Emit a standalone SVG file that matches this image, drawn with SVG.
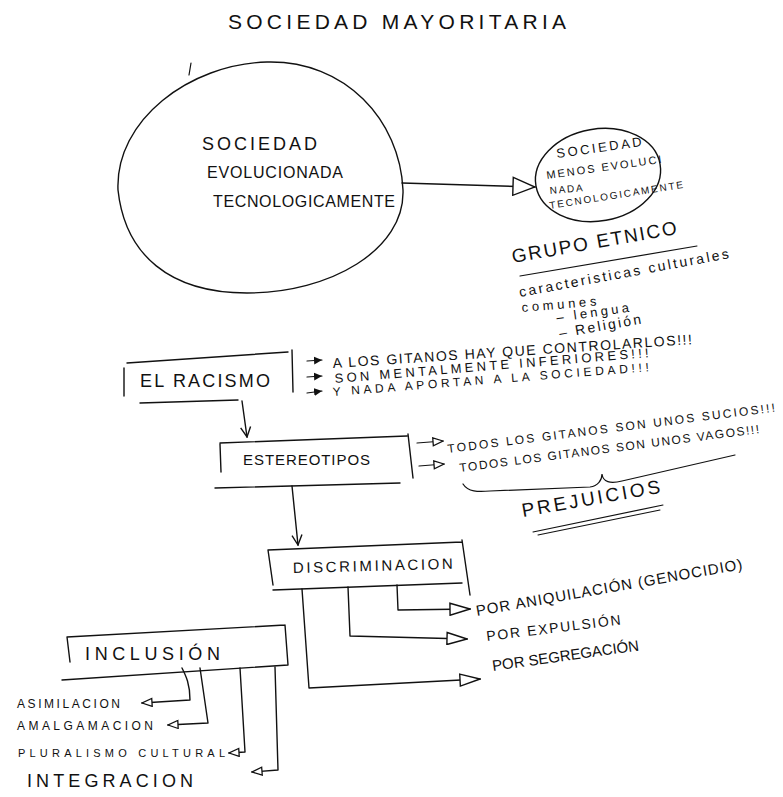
<svg xmlns="http://www.w3.org/2000/svg" width="783" height="797" viewBox="0 0 783 797">
<style>
  .t { font-family: "Liberation Sans", "DejaVu Sans", sans-serif; fill: #111; }
  .ln { fill: none; stroke: #111; stroke-width: 1.4; stroke-linecap: round; stroke-linejoin: round; }
  .thin { fill: none; stroke: #111; stroke-width: 1.2; stroke-linecap: round; }
</style>
<defs>
  <marker id="triBig" markerUnits="userSpaceOnUse" viewBox="0 0 24 20" refX="23" refY="10" markerWidth="24" markerHeight="20" orient="auto">
    <path d="M1,1 L23,10 L1,19 Z" fill="#fff" stroke="#111" stroke-width="1.4"/>
  </marker>
  <marker id="tri" markerUnits="userSpaceOnUse" viewBox="0 0 22 14" refX="21" refY="7" markerWidth="22" markerHeight="14" orient="auto">
    <path d="M1,1 L21,7 L1,13 Z" fill="#fff" stroke="#111" stroke-width="1.4"/>
  </marker>
  <marker id="triS" markerUnits="userSpaceOnUse" viewBox="0 0 12 10" refX="11" refY="5" markerWidth="12" markerHeight="10" orient="auto">
    <path d="M1,1 L11,5 L1,9 Z" fill="#fff" stroke="#111" stroke-width="1.3"/>
  </marker>
  <marker id="vee" markerUnits="userSpaceOnUse" viewBox="0 0 12 12" refX="11" refY="6" markerWidth="12" markerHeight="12" orient="auto">
    <path d="M1,1 L11,6 L1,11" fill="none" stroke="#111" stroke-width="1.4"/>
  </marker>
  <marker id="bullet" markerUnits="userSpaceOnUse" viewBox="0 0 9 8" refX="8" refY="4" markerWidth="9" markerHeight="8" orient="auto">
    <path d="M0,0 L8,4 L0,8 Z" fill="#111"/>
  </marker>
</defs>

<g id="title">
  <text class="t" x="228" y="29" font-size="21" textLength="338" lengthAdjust="spacing">SOCIEDAD MAYORITARIA</text>
  <path class="thin" d="M189,75 L191,63"/>
</g>

<g id="sociedad-evolucionada">
  <path class="ln" d="M267,62 C345,60 400,120 403,190 C405,250 330,293 247,293 C170,293 125,255 118,190 C115,120 190,64 267,62 Z"/>
  <text class="t" x="202" y="150" font-size="18" textLength="115" lengthAdjust="spacing">SOCIEDAD</text>
  <text class="t" x="207" y="178" font-size="16" textLength="136" lengthAdjust="spacing">EVOLUCIONADA</text>
  <text class="t" x="213" y="207" font-size="16" textLength="182" lengthAdjust="spacing">TECNOLOGICAMENTE</text>
</g>

<g id="sociedad-menos-evolucionada">
  <ellipse class="ln" cx="598" cy="175" rx="63" ry="46" transform="rotate(-10 598 175)"/>
  <text class="t" font-size="13" textLength="86" lengthAdjust="spacing" transform="translate(557 158) rotate(-8)">SOCIEDAD</text>
  <text class="t" font-size="11" textLength="116" lengthAdjust="spacing" transform="translate(547 179) rotate(-8)">MENOS EVOLUCI</text>
  <text class="t" font-size="10" textLength="33" lengthAdjust="spacing" transform="translate(550 194) rotate(-5)">NADA</text>
  <text class="t" font-size="10" textLength="135" lengthAdjust="spacing" transform="translate(550 209) rotate(-9)">TECNOLOGICAMENTE</text>
</g>

<g id="grupo-etnico">
  <text class="t" font-size="19" textLength="167" lengthAdjust="spacing" transform="translate(513 263) rotate(-10)">GRUPO ETNICO</text>
  <path class="thin" d="M520,276 L697,246"/>
  <text class="t" font-size="14" textLength="213" lengthAdjust="spacing" transform="translate(520 297) rotate(-10.5)">caracteristicas culturales</text>
  <text class="t" font-size="13" textLength="75" lengthAdjust="spacing" transform="translate(522 312) rotate(-5)">comunes</text>
  <text class="t" font-size="13" textLength="73" lengthAdjust="spacing" transform="translate(557 322) rotate(-8)">– lengua</text>
  <text class="t" font-size="14" textLength="83" lengthAdjust="spacing" transform="translate(560 338) rotate(-10)">– Religión</text>
</g>

<g id="racismo">
  <path class="ln" d="M127,363 L288,352 M292,350 L293,392 M124,368 L124,396 M140,403 L238,400"/>
  <text class="t" x="140" y="387" font-size="18" textLength="130" lengthAdjust="spacing">EL RACISMO</text>
</g>
<g id="racismo-notas">
  <path class="thin" d="M307,361 L322,360" marker-end="url(#bullet)"/>
  <path class="thin" d="M307,377 L322,376" marker-end="url(#bullet)"/>
  <path class="thin" d="M307,393 L322,391" marker-end="url(#bullet)"/>
  <text class="t" font-size="14" textLength="360" lengthAdjust="spacing" transform="translate(333 368) rotate(-3.8)">A LOS GITANOS HAY QUE CONTROLARLOS!!!</text>
  <text class="t" font-size="13" textLength="315" lengthAdjust="spacing" transform="translate(335 383) rotate(-4.7)">SON MENTALMENTE INFERIORES!!!</text>
  <text class="t" font-size="12" textLength="317" lengthAdjust="spacing" transform="translate(333 396) rotate(-4.5)">Y NADA APORTAN A LA SOCIEDAD!!!</text>
</g>

<g id="estereotipos">
  <path class="ln" d="M220,443 L407,436 M408,434 L413,478 M220,444 L221,472 M215,488 L400,483"/>
  <text class="t" x="243" y="465" font-size="15" textLength="127" lengthAdjust="spacing">ESTEREOTIPOS</text>
</g>
<g id="estereotipos-notas">
  <path class="thin" d="M417,443 L443,441" marker-end="url(#triS)"/>
  <path class="thin" d="M419,466 L444,464" marker-end="url(#triS)"/>
  <text class="t" font-size="12" textLength="330" lengthAdjust="spacing" transform="translate(448 453) rotate(-7.2)">TODOS LOS GITANOS SON UNOS SUCIOS!!!</text>
  <text class="t" font-size="12" textLength="302" lengthAdjust="spacing" transform="translate(460 472) rotate(-7.4)">TODOS LOS GITANOS SON UNOS VAGOS!!!</text>
</g>

<g id="prejuicios">
  <path class="thin" d="M463,484 C468,492 478,492 490,491 L590,487 C598,486 602,480 602,474 C603,482 610,484 622,481 L735,455"/>
  <text class="t" font-size="19" textLength="140" lengthAdjust="spacing" transform="translate(523 517) rotate(-10)">PREJUICIOS</text>
  <path class="thin" d="M533,532 L663,505 M538,535 L660,510"/>
</g>

<g id="discriminacion">
  <path class="ln" d="M268,550 L462,542 M462,540 L470,595 M268,550 L273,585 M273,590 L462,583"/>
  <text class="t" font-size="15" textLength="160" lengthAdjust="spacing" transform="translate(293 573) rotate(-1.5)">DISCRIMINACION</text>
</g>
<g id="discriminacion-tipos">
  <text class="t" font-size="15" textLength="270" lengthAdjust="spacing" transform="translate(477 616) rotate(-10)">POR ANIQUILACIÓN (GENOCIDIO)</text>
  <text class="t" font-size="14" textLength="135" lengthAdjust="spacing" transform="translate(487 641) rotate(-7)">POR EXPULSIÓN</text>
  <text class="t" font-size="15" textLength="148" lengthAdjust="spacing" transform="translate(493 671) rotate(-8)">POR SEGREGACIÓN</text>
</g>

<g id="inclusion">
  <path class="ln" d="M67,637 L285,625 M285,625 L288,665 M67,637 L70,662 M62,680 L288,665"/>
  <text class="t" x="85" y="660" font-size="18" textLength="135" lengthAdjust="spacing">INCLUSIÓN</text>
</g>
<g id="inclusion-tipos">
  <text class="t" x="17" y="708" font-size="12" textLength="103" lengthAdjust="spacing">ASIMILACION</text>
  <text class="t" x="17" y="730" font-size="12" textLength="136" lengthAdjust="spacing">AMALGAMACION</text>
  <text class="t" x="18" y="757" font-size="11" textLength="207" lengthAdjust="spacing">PLURALISMO CULTURAL</text>
  <text class="t" x="27" y="787" font-size="18" textLength="166" lengthAdjust="spacing">INTEGRACION</text>
</g>

<g id="connectors">
  <path class="ln" d="M402,183 L535,187" marker-end="url(#triBig)"/>
  <path class="ln" d="M242,401 L247,437" marker-end="url(#vee)"/>
  <path class="ln" d="M292,486 L298,545" marker-end="url(#vee)"/>
  <path class="ln" d="M397,585 L398,610 L470,609" marker-end="url(#tri)"/>
  <path class="ln" d="M348,587 L350,636 L467,639" marker-end="url(#tri)"/>
  <path class="ln" d="M302,589 L309,688 L480,679" marker-end="url(#tri)"/>
  <path class="ln" d="M182,668 C186,676 190,684 190,700 L142,703" marker-end="url(#triS)"/>
  <path class="ln" d="M200,668 L208,723 L168,725" marker-end="url(#triS)"/>
  <path class="ln" d="M240,668 L245,752 L229,753" marker-end="url(#triS)"/>
  <path class="ln" d="M275,667 L278,770 L252,772" marker-end="url(#triS)"/>
</g>
</svg>
